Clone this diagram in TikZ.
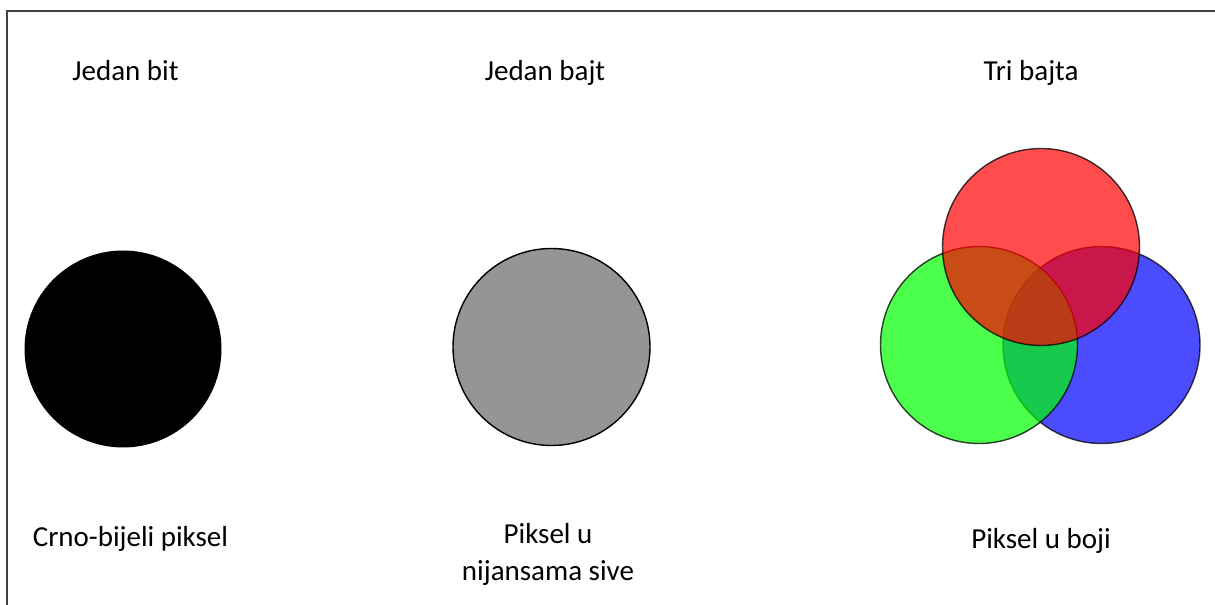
\documentclass[tikz,border=0pt]{standalone}
\usepackage{fontspec}
\setmainfont{Carlito}
\definecolor{pixgray}{RGB}{149,149,149}
\definecolor{framegray}{RGB}{64,64,64}

\begin{document}
\begin{tikzpicture}[every node/.style={font=\fontsize{16.5}{21.6}\selectfont}, pix/.style={circle, minimum size=3.94cm, inner sep=0pt, line width=0.8pt}, rgbpix/.style={pix, draw=black, draw opacity=0.75, fill opacity=0.7}]
\useasboundingbox (0,0) rectangle (24.3,12.1);
\coordinate (F0) at (0.14,0);
\coordinate (F1) at (0.14,11.88);
\coordinate (F2) at (24.3,11.88);
\draw[line width=0.85pt, draw=framegray] (F0) -- (F1) -- (F2);
\node[anchor=base] (T1) at (2.51,10.48) {Jedan bit};
\node[anchor=base] (T2) at (10.9,10.48) {Jedan bajt};
\node[anchor=base] (T3) at (20.62,10.48) {Tri bajta};
\node[pix, fill=black] (P1) at (2.46,5.12) {};
\node[pix, draw=black, fill=pixgray] (P2) at (11.03,5.16) {};
\node[rgbpix, fill=blue] (PB) at (22.03,5.2) {};
\node[rgbpix, fill=green] (PG) at (19.58,5.2) {};
\node[rgbpix, fill=red] (PR) at (20.82,7.16) {};
\node[anchor=base] (B1) at (2.61,1.16) {Crno-bijeli piksel};
\node[anchor=base, align=center] (B2) at (10.96,0.48) {Piksel u\\nijansama sive};
\node[anchor=base] (B3) at (20.82,1.12) {Piksel u boji};
\end{tikzpicture}
\end{document}
